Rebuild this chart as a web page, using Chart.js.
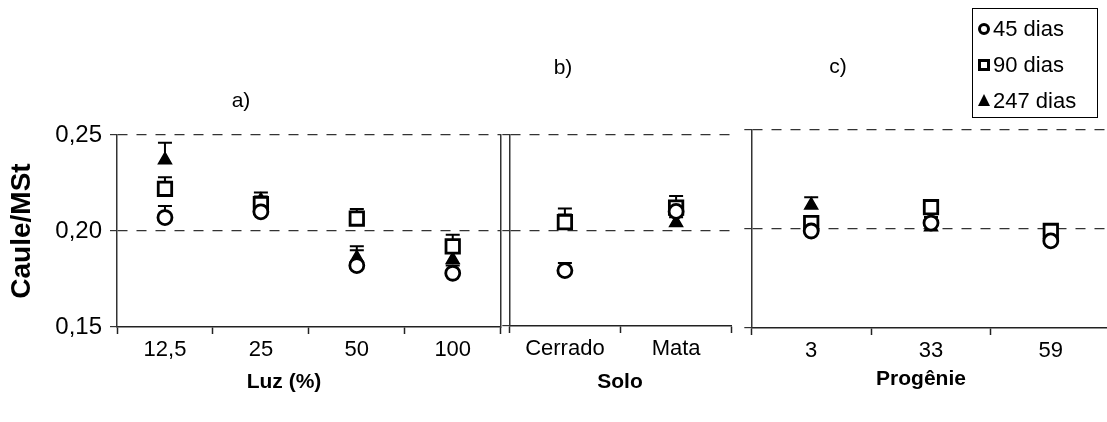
<!DOCTYPE html>
<html>
<head>
<meta charset="utf-8">
<script src="https://cdn.jsdelivr.net/npm/chart.js@4.4.1/dist/chart.umd.min.js"></script>
<style>
  body { margin: 0; background: #fff; overflow: hidden; }
  #wrap { position: relative; width: 1107px; height: 422px; overflow: hidden; font-family: 'Liberation Sans', Arial, sans-serif; color: #000; }
  canvas { position: absolute; top: 0; }
  .lbl { position: absolute; transform: translate(-50%, -50%); white-space: nowrap; font-size: 21px; }
  .axt { position: absolute; transform: translate(-50%, -50%); white-space: nowrap; font-size: 21px; font-weight: bold; }
  #legend { position: absolute; left: 972px; top: 8px; width: 124px; height: 108px; border: 1px solid #000; font-size: 22px; }
  #legend div { position: absolute; left: 20px; height: 26px; line-height: 26px; }
  .sym { position: absolute; left: 5px; box-sizing: border-box; }
  .sym.c { width: 12px; height: 12px; border: 3px solid #000; border-radius: 50%; }
  .sym.s { width: 12px; height: 12px; border: 3px solid #000; }
  .sym.t { width: 0; height: 0; border-left: 6px solid transparent; border-right: 6px solid transparent; border-bottom: 12px solid #000; }
</style>
</head>
<body>
<div id="wrap">
  <canvas id="chartA" width="513" height="422" style="left:0px"></canvas>
  <canvas id="chartB" width="247" height="422" style="left:497px"></canvas>
  <canvas id="chartC" width="384" height="422" style="left:739px"></canvas>

  <div class="lbl" style="left:241px; top:100px">a)</div>
  <div class="lbl" style="left:563px; top:67px">b)</div>
  <div class="lbl" style="left:838px; top:66px">c)</div>

  <div class="axt" style="left:284px; top:381px">Luz (%)</div>
  <div class="axt" style="left:620px; top:381px">Solo</div>
  <div class="axt" style="left:921px; top:378px">Progênie</div>

  <div id="legend">
    <span class="sym c" style="top:14px"></span><div style="top:7px">45 dias</div>
    <span class="sym s" style="top:50px"></span><div style="top:43px">90 dias</div>
    <span class="sym t" style="top:85px"></span><div style="top:79px">247 dias</div>
  </div>
</div>

<script>
// Luz (%)
const luzLabels = ['12,5', '25', '50', '100'];
const luz45 = [0.207, 0.210, 0.182, 0.178];
const luz45Err = [0.006, 0.003, 0.008, 0.004];
const luz90 = [0.222, 0.214, 0.2065, 0.192];
const luz90Err = [0.006, 0.004, 0.005, 0.006];
const luz247 = [0.237, 0.216, 0.186, 0.185];
const luz247Err = [0.009, 0.004, 0.006, 0.005];

// Solo
const soloLabels = ['Cerrado', 'Mata'];
const solo45 = [0.179, 0.210];
const solo45Err = [0.004, 0.005];
const solo90 = [0.2044, 0.212];
const solo90Err = [0.004, 0.006];
const solo247 = [0.2045, 0.204];
const solo247Err = [0.007, 0.003];

// Progênie
const progLabels = ['3', '33', '59'];
const prog45 = [0.199, 0.203, 0.194];
const prog45Err = [0.002, 0.003, 0.002];
const prog90 = [0.203, 0.211, 0.199];
const prog90Err = [0.002, 0.002, 0.002];
const prog247 = [0.212, 0.201, 0.196];
const prog247Err = [0.004, 0.003, 0.002];

const yTicks = [0.15, 0.20, 0.25];

// draws the upper error bars under the markers
const errorBars = {
    id: 'errorBars',
    beforeDatasetsDraw(chart) {
        const ctx = chart.ctx;
        const yScale = chart.scales.y;
        chart.data.datasets.forEach((ds, i) => {
            const meta = chart.getDatasetMeta(i);
            meta.data.forEach((pt, j) => {
                const yTop = yScale.getPixelForValue(ds.data[j] + ds.errors[j]);
                ctx.save();
                ctx.strokeStyle = '#000';
                ctx.lineWidth = 2;
                ctx.beginPath();
                ctx.moveTo(pt.x, pt.y);
                ctx.lineTo(pt.x, yTop);
                ctx.moveTo(pt.x - 7, yTop);
                ctx.lineTo(pt.x + 7, yTop);
                ctx.stroke();
                ctx.restore();
            });
        });
    }
};

function makeDatasets(d45, e45, d90, e90, d247, e247) {
    return [
        { label: '45 dias', data: d45, errors: e45, pointStyle: 'circle', pointRadius: 7,
          backgroundColor: '#fff', borderColor: '#000', borderWidth: 2.8 },
        { label: '90 dias', data: d90, errors: e90, pointStyle: 'rect', pointRadius: 9.5,
          backgroundColor: '#fff', borderColor: '#000', borderWidth: 2.8 },
        { label: '247 dias', data: d247, errors: e247, pointStyle: 'triangle', pointRadius: 7.5,
          backgroundColor: '#000', borderColor: '#000', borderWidth: 1.5 }
    ];
}

function makeOptions(cfg) {
    const opts = {
        responsive: false,
        devicePixelRatio: 1,
        animation: false,
        showLine: false,
        layout: { padding: { top: cfg.top, right: cfg.right, left: 0, bottom: 0 } },
        plugins: { legend: { display: false }, tooltip: { enabled: false } },
        scales: {
            x: {
                type: 'category',
                offset: true,
                grid: { offset: true, drawOnChartArea: false, drawTicks: true, tickLength: 7, tickColor: '#222', tickWidth: 1.5 },
                border: { display: true, color: '#222', width: 1.5 },
                ticks: { color: '#000', padding: 3, font: { family: "'Liberation Sans', Arial", size: 22 }, maxRotation: 0 },
                afterFit: (s) => { s.height = 422 - cfg.bottom; }
            },
            y: {
                min: 0.15,
                max: 0.25,
                afterBuildTicks: (s) => { s.ticks = yTicks.map(v => ({ value: v })); },
                grid: {
                    color: (c) => c.tick && c.tick.value > 0.16 ? '#333' : 'rgba(0,0,0,0)',
                    lineWidth: 1.2,
                    drawTicks: true,
                    tickLength: 7,
                    tickColor: '#333',
                    tickWidth: 1.2
                },
                border: { display: true, color: '#333', width: 1.5, dash: [10, 9] },
                ticks: {
                    display: cfg.yLabels,
                    color: '#000',
                    padding: 8,
                    font: { family: "'Liberation Sans', Arial", size: 24 },
                    callback: (v) => v.toFixed(2).replace('.', ',')
                },
                title: {
                    display: cfg.yLabels,
                    text: 'Caule/MSt',
                    color: '#000',
                    padding: { top: 5, bottom: 0 },
                    font: { family: "'Liberation Sans', Arial", size: 28, weight: 'bold' }
                },
                afterFit: (s) => { s.width = cfg.yWidth; }
            }
        }
    };
    if (cfg.rightBorder) {
        opts.scales.y2 = {
            position: 'right', min: 0.15, max: 0.25,
            grid: { drawOnChartArea: false, drawTicks: false },
            border: { display: true, color: '#333', width: 1.5 },
            ticks: { display: false },
            afterFit: (s) => { s.width = 0; }
        };
    }
    return opts;
}

new Chart(document.getElementById('chartA'), {
    type: 'line',
    data: { labels: luzLabels, datasets: makeDatasets(luz45, luz45Err, luz90, luz90Err, luz247, luz247Err) },
    options: makeOptions({ top: 135, bottom: 327, right: 4, yWidth: 117, yLabels: true, rightBorder: true }),
    plugins: [errorBars]
});

new Chart(document.getElementById('chartB'), {
    type: 'line',
    data: { labels: soloLabels, datasets: makeDatasets(solo45, solo45Err, solo90, solo90Err, solo247, solo247Err) },
    options: makeOptions({ top: 135, bottom: 326, right: 3, yWidth: 8, yLabels: false }),
    plugins: [errorBars]
});

new Chart(document.getElementById('chartC'), {
    type: 'line',
    data: { labels: progLabels, datasets: makeDatasets(prog45, prog45Err, prog90, prog90Err, prog247, prog247Err) },
    options: makeOptions({ top: 130, bottom: 328, right: 0, yWidth: 8, yLabels: false }),
    plugins: [errorBars]
});
</script>
</body>
</html>
